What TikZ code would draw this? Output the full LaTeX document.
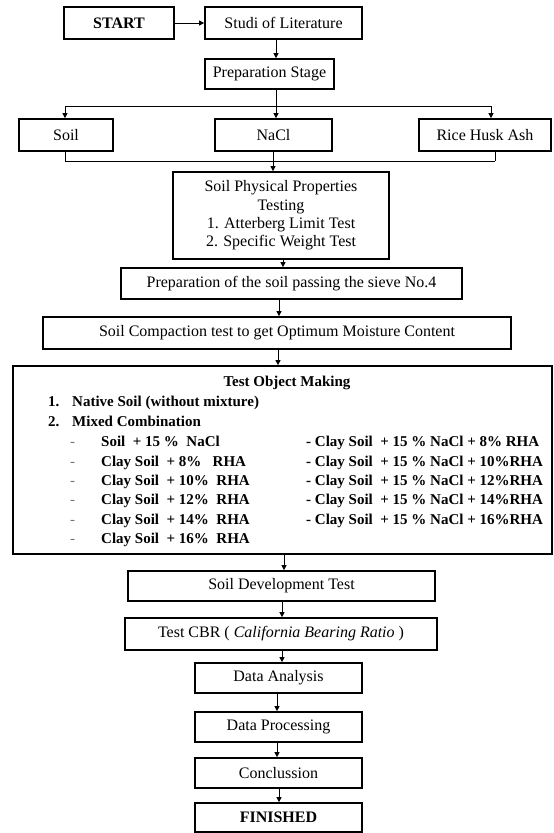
\documentclass[tikz,border=0pt]{standalone}
\usepackage{fontspec}
\setmainfont{Liberation Serif}
\usetikzlibrary{arrows.meta}
\begin{document}
\begin{tikzpicture}[x=1pt,y=-1pt,
  box/.style={draw, line width=1.7pt, inner sep=0pt, align=center, font=\fontsize{16}{18.3}\selectfont},
  con/.style={line width=0.8pt},
  arr/.style={con, -{Triangle[length=5pt,width=5pt]}},
  txt/.style={inner sep=0pt, anchor=base west, font=\fontsize{15}{17}\selectfont\bfseries},
  dsh/.style={inner sep=0pt, anchor=base west, font=\fontsize{15}{17}\selectfont, text=black!55}]
\useasboundingbox (0,0) rectangle (554,833);
% boxes
\node[box, minimum width=110pt, minimum height=32pt, font=\fontsize{16}{18}\selectfont\bfseries] (start) at (119,23) {START};
\node[box, minimum width=157pt, minimum height=32pt] (studi) at (283.5,23) {Studi of Literature};
\node[box, minimum width=129pt, minimum height=30pt] (prep) at (269.5,74) {Preparation Stage};
\node[box, minimum width=94pt, minimum height=32pt] (soil) at (66,135) {Soil};
\node[box, minimum width=117pt, minimum height=32pt] (nacl) at (273.5,135) {NaCl};
\node[box, minimum width=132pt, minimum height=32pt] (rha) at (485,135) {Rice Husk Ash};
\node[box, minimum width=216pt, minimum height=87pt] (phys) at (281,215.5) {Soil Physical Properties\\Testing\\1. Atterberg Limit Test\\2. Specific Weight Test};
\node[box, minimum width=341pt, minimum height=31pt] (sieve) at (291.5,283.5) {Preparation of the soil passing the sieve No.4};
\node[box, minimum width=468pt, minimum height=32pt] (compact) at (277,333) {Soil Compaction test to get Optimum Moisture Content};
\node[box, minimum width=539pt, minimum height=188pt] (object) at (282.5,460) {};
\node[box, minimum width=307pt, minimum height=30pt] (devel) at (281.5,586) {Soil Development Test};
\node[box, minimum width=312pt, minimum height=32pt] (cbr) at (281,634) {Test CBR ( \textit{California Bearing Ratio} )};
\node[box, minimum width=167pt, minimum height=30pt] (analysis) at (278.5,678) {Data Analysis};
\node[box, minimum width=167pt, minimum height=30pt] (process) at (278.5,727) {Data Processing};
\node[box, minimum width=167pt, minimum height=30pt] (concl) at (278.5,773) {Conclussion};
\node[box, minimum width=167pt, minimum height=29pt, font=\fontsize{16}{18}\selectfont\bfseries] (fin) at (278.5,817.5) {FINISHED};
% text inside Test Object Making
\node[txt, anchor=base] (tom) at (287,386) {Test Object Making};
\node[txt] (n1) at (48,406) {1.};
\node[txt] (t1) at (72,406) {Native Soil (without mixture)};
\node[txt] (n2) at (48,426) {2.};
\node[txt] (t2) at (72,426) {Mixed Combination};
\foreach \y/\s [count=\i] in {446/{Soil\ \ + 15 \%\ \ NaCl}, 466/{Clay Soil\ \ + 8\%\ \ \ RHA}, 485/{Clay Soil\ \ + 10\%\ \ RHA}, 504/{Clay Soil\ \ + 12\%\ \ RHA}, 524/{Clay Soil\ \ + 14\%\ \ RHA}, 543/{Clay Soil\ \ + 16\%\ \ RHA}}{
  \node[dsh] (d\i) at (70,\y) {-};
  \node[txt] (l\i) at (101,\y) {\s};
}
\foreach \y/\p [count=\i] in {446/{8\% RHA}, 466/{10\%RHA}, 485/{12\%RHA}, 504/{14\%RHA}, 524/{16\%RHA}}{
  \node[txt] (r\i) at (306,\y) {- Clay Soil\ \ + 15 \% NaCl + \p};
}
% connector coordinates
\coordinate (c276) at (276,0);
\coordinate (bl) at (65,106);
\coordinate (bm) at (276,106);
\coordinate (brr) at (491,106);
\coordinate (j1) at (65,161);
\coordinate (j2) at (273,161);
\coordinate (j3) at (495,161);
\coordinate (c283) at (283,0);
\coordinate (c279) at (279,0);
\coordinate (c278) at (278,0);
\coordinate (c284) at (284,0);
\coordinate (c282) at (282,0);
\coordinate (c277) at (277,0);
% connectors
\draw[arr] (start.east) -- (studi.west);
\draw[arr] (studi.south -| c276) -- (prep.north -| c276);
\draw[con] (prep.south -| c276) -- (bm);
\draw[con] (bl) -- (brr);
\draw[arr] (bl) -- (soil.north -| bl);
\draw[arr] (bm) -- (nacl.north -| bm);
\draw[arr] (brr) -- (rha.north -| brr);
\draw[con] (soil.south -| j1) -- (j1);
\draw[con] (nacl.south -| j2) -- (j2);
\draw[con] (rha.south -| j3) -- (j3);
\draw[con] (j1) -- (j3);
\draw[arr] (j2) -- (phys.north -| j2);
\draw[arr] (phys.south -| c283) -- (sieve.north -| c283);
\draw[arr] (sieve.south -| c279) -- (compact.north -| c279);
\draw[arr] (compact.south -| c278) -- (object.north -| c278);
\draw[arr] (object.south -| c284) -- (devel.north -| c284);
\draw[arr] (devel.south -| c282) -- (cbr.north -| c282);
\draw[arr] (cbr.south -| c282) -- (analysis.north -| c282);
\draw[arr] (analysis.south -| c277) -- (process.north -| c277);
\draw[arr] (process.south -| c277) -- (concl.north -| c277);
\draw[arr] (concl.south -| c279) -- (fin.north -| c279);
\end{tikzpicture}
\end{document}
